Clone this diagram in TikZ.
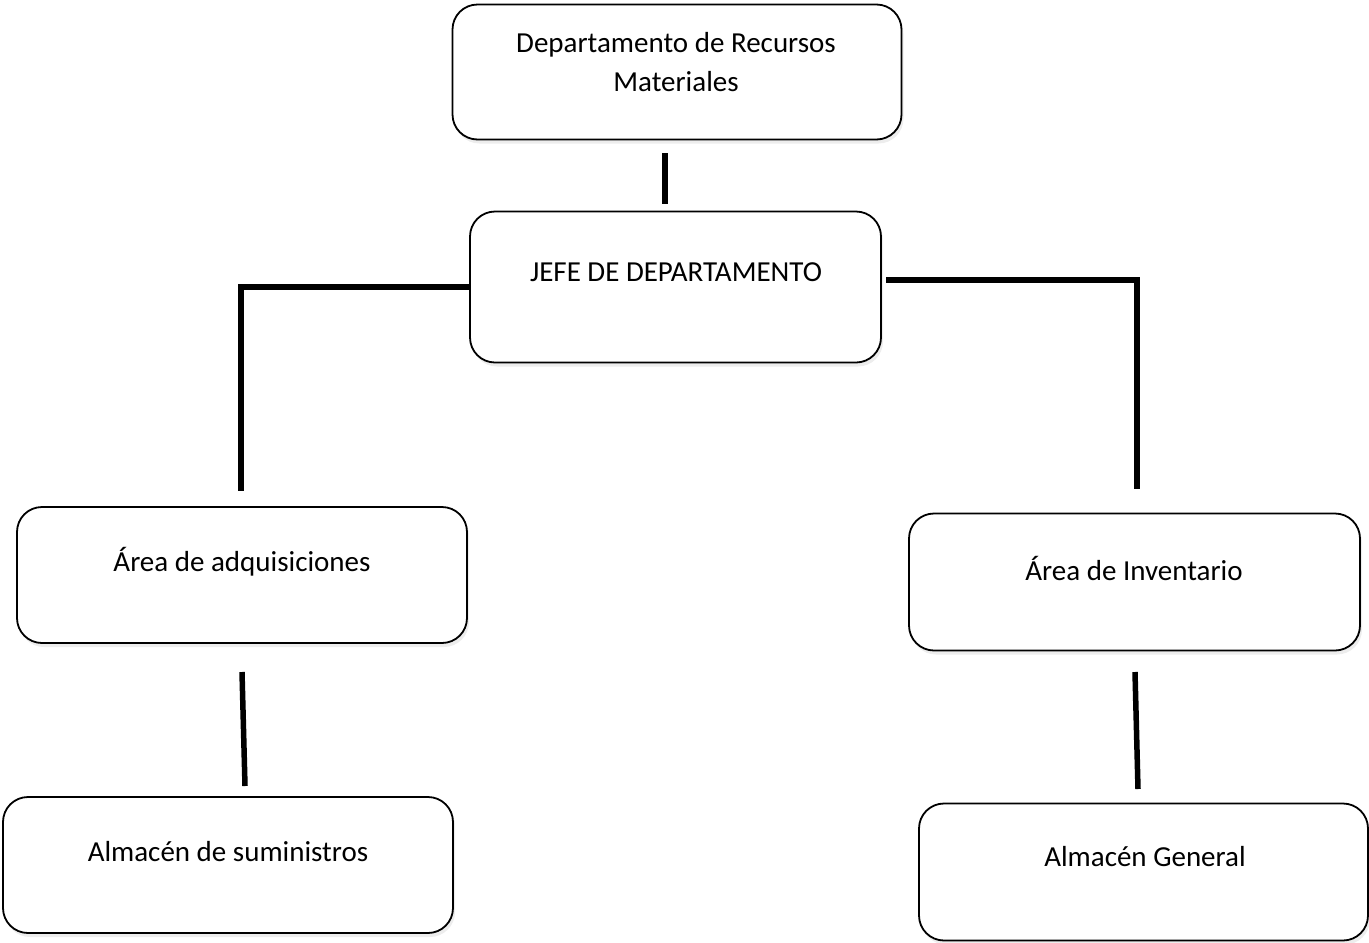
\documentclass[tikz,border=0pt]{standalone}
\usepackage{fontspec}
\setmainfont{Carlito}
\usetikzlibrary{shadows}
\begin{document}
\begin{tikzpicture}[x=1pt,y=-1pt,
  box/.style={draw=black, line width=1.8pt, rounded corners=25pt, fill=white, inner sep=0pt,
    drop shadow={shadow xshift=2pt, shadow yshift=-4pt, fill=black!9, opacity=0.8}},
  lbl/.style={font=\fontsize{29}{39}\selectfont, inner sep=0pt, align=center, text=black},
  conn/.style={line width=5.5pt, draw=black}
]
\useasboundingbox (0,0) rectangle (1369,943);
% boxes
\node[box, minimum width=449pt, minimum height=135pt] (drm) at (677,72) {};
\node[box, minimum width=411pt, minimum height=151pt] (jefe) at (675.5,287) {};
\node[box, minimum width=450pt, minimum height=136pt] (adq) at (242,575) {};
\node[box, minimum width=451pt, minimum height=137pt] (inv) at (1134.5,582) {};
\node[box, minimum width=450pt, minimum height=136pt] (sum) at (228,865) {};
\node[box, minimum width=449pt, minimum height=137pt] (gen) at (1143.5,872) {};
% texts
\node[lbl] (drmT) at (676,62) {Departamento de Recursos\\Materiales};
\node[lbl] (jefeT) at (676,272) {JEFE DE DEPARTAMENTO};
\node[lbl] (adqT) at (242,562) {Área de adquisiciones};
\node[lbl] (invT) at (1134,568) {Área de Inventario};
\node[lbl] (sumT) at (228,852) {Almacén de suministros};
\node[lbl] (genT) at (1145,857) {Almacén General};
% connector ends
\coordinate (c1a) at (665,153);
\coordinate (c1b) at (665,204);
\coordinate (lEnd) at (241,491);
\coordinate (rStart) at (886,280);
\coordinate (rEnd) at (1137,489);
\coordinate (l2a) at (242,672);
\coordinate (l2b) at (245,786);
\coordinate (r2a) at (1135,672);
\coordinate (r2b) at (1138,789);
% connectors
\draw[conn] (c1a) -- (c1b);
\draw[conn] (jefe.west |- 0,287) -| (lEnd);
\draw[conn] (rStart) -| (rEnd);
\draw[conn] (l2a) -- (l2b);
\draw[conn] (r2a) -- (r2b);
\end{tikzpicture}
\end{document}
